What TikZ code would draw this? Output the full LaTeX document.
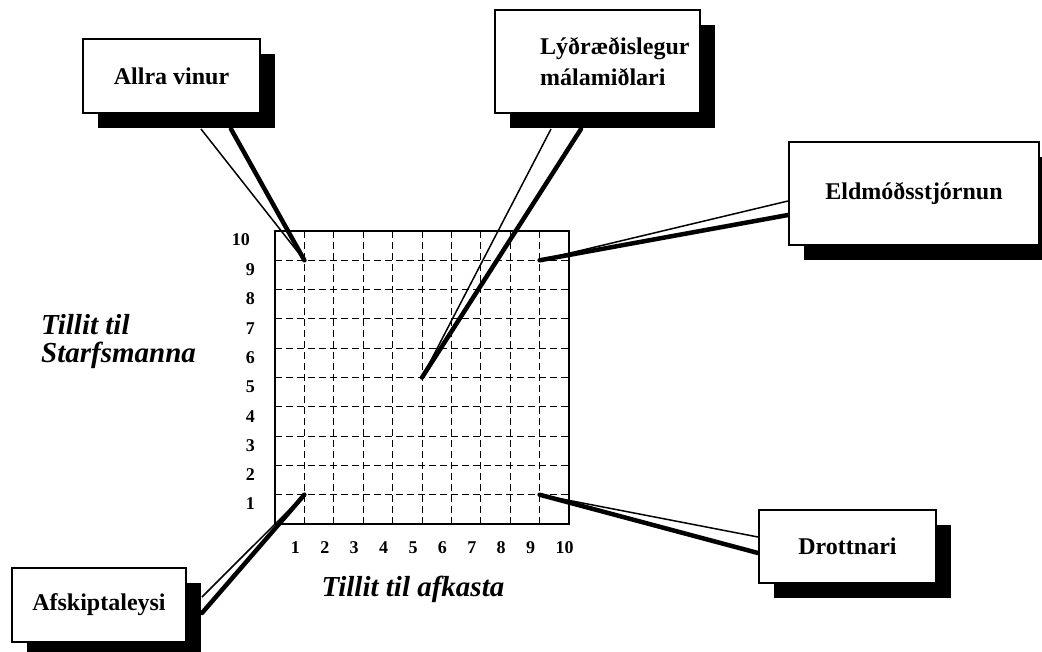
\documentclass[tikz,border=0pt]{standalone}
\usepackage{fontspec}
\setmainfont{Liberation Serif}
\usetikzlibrary{shadows,calc}

\pgfdeclarelayer{gridlayer}
\pgfdeclarelayer{leglayer}
\pgfsetlayers{gridlayer,leglayer,main}

\begin{document}
\begin{tikzpicture}[x=1pt,y=-1pt,
  box/.style={draw=black, line width=2pt, fill=white, inner sep=0pt,
    font=\fontsize{24}{31}\selectfont\bfseries,
    general shadow={fill=black, shadow xshift=15pt, shadow yshift=-15pt}},
  boxtext/.style={inner sep=0pt, align=left, font=\fontsize{24}{31}\selectfont\bfseries},
  tick/.style={font=\fontsize{18}{20}\selectfont\bfseries, inner sep=0pt},
  axistitle/.style={font=\fontsize{29}{28}\selectfont\bfseries\itshape, inner sep=0pt, align=left},
  thinleg/.style={line width=1.5pt},
  thickleg/.style={line width=4.5pt, line cap=round},
  gridline/.style={line width=1pt, dash pattern=on 7pt off 4pt},
  frame/.style={draw=black, line width=2.5pt, inner sep=0pt}]

\useasboundingbox (0,0) rectangle (1042,651);

% dashed 10x10 grid with its frame
\begin{pgfonlayer}{gridlayer}
\foreach \k in {1,...,9} {
  \draw[gridline] ({275+29.4*\k},231) -- ({275+29.4*\k},524);
  \draw[gridline] (275,{524-29.3*\k}) -- (569,{524-29.3*\k});
}
\node[frame, minimum width=294pt, minimum height=293pt] (grid) at (422,377.5) {};
\end{pgfonlayer}

% axis numbers
\foreach \k in {1,...,9}
  \node[tick, anchor=east] (y\k) at (255,{504-29.3*(\k-1)}) {\k};
\node[tick, anchor=east] (y10) at (250,240) {10};
\foreach \k in {1,...,10}
  \node[tick, anchor=west] (x\k) at ({290.7+29.4*(\k-1)},548) {\k};

% axis titles
\node[axistitle, anchor=west] (ytitle) at (41,342) {Tillit til\\Starfsmanna};
\node[axistitle] (xtitle) at (413,589) {Tillit til afkasta};

% points the callouts refer to
\coordinate (t19) at (304.4,260.3);
\coordinate (t55) at (422,377.5);
\coordinate (t99) at (539.6,260.3);
\coordinate (t11) at (304.4,494.7);
\coordinate (t91) at (539.6,494.7);

% callout boxes
\node[box, minimum width=177pt, minimum height=74pt] (allra) at (171.5,76) {Allra vinur};
\node[box, minimum width=205pt, minimum height=103pt] (lydr) at (597.5,61.5) {};
\node[boxtext, anchor=west] (lydrtext) at (540,62) {Lýðræðislegur\\málamiðlari};
\node[box, minimum width=250pt, minimum height=103pt] (eld) at (914,193.5) {Eldmóðsstjórnun};
\node[box, minimum width=177pt, minimum height=73pt] (drott) at (847.5,546.5) {Drottnari};
\node[box, minimum width=174pt, minimum height=74pt] (afsk) at (99,605) {Afskiptaleysi};

% callout legs, behind the boxes and their shadows
\begin{pgfonlayer}{leglayer}
\draw[thinleg]  ([xshift=119pt,yshift=-15pt]allra.south west) -- (t19);
\draw[thickleg] ([xshift=149pt,yshift=-15pt]allra.south west) -- (t19);
\draw[thinleg]  ([xshift=57pt,yshift=-15pt]lydr.south west) -- (t55);
\draw[thickleg] ([xshift=87pt,yshift=-15pt]lydr.south west) -- (t55);
\draw[thinleg]  ([yshift=-60pt]eld.north west) -- (t99);
\draw[thickleg] ([yshift=-74pt]eld.north west) -- (t99);
\draw[thinleg]  ([xshift=15pt,yshift=46pt]afsk.south east) -- (t11);
\draw[thickleg] ([xshift=15pt,yshift=30pt]afsk.south east) -- (t11);
\draw[thinleg]  ([yshift=-28pt]drott.north west) -- (t91);
\draw[thickleg] ([yshift=-44pt]drott.north west) -- (t91);
\end{pgfonlayer}

\end{tikzpicture}
\end{document}
